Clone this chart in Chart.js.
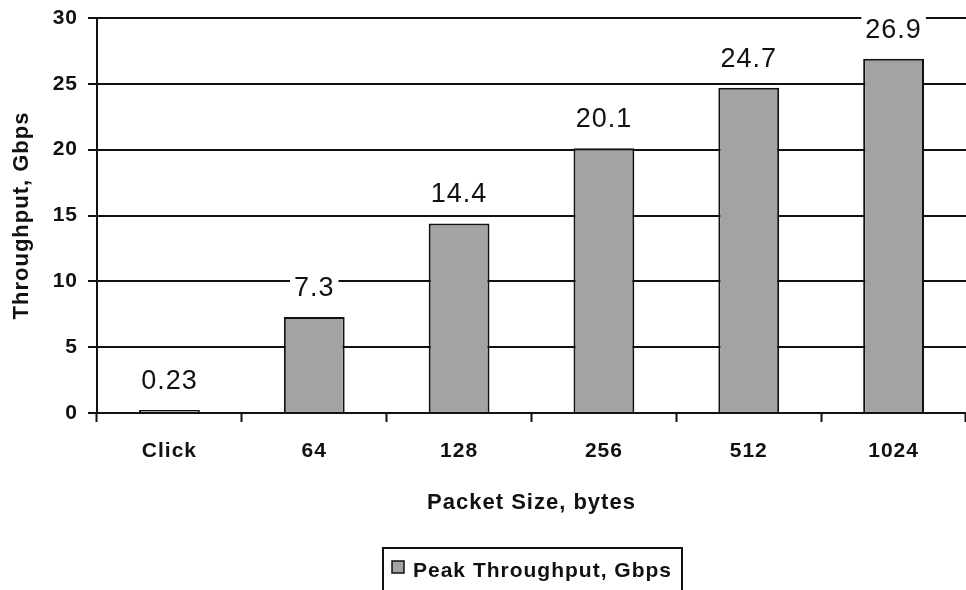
<!DOCTYPE html>
<html>
<head>
<meta charset="utf-8">
<title>Peak Throughput</title>
<script src="https://cdn.jsdelivr.net/npm/chart.js@4/dist/chart.umd.min.js"></script>
<style>
  html, body { margin: 0; padding: 0; background: #fff; }
  #wrap { width: 966px; height: 590px; position: relative; }
</style>
</head>
<body>
<div id="wrap"><canvas id="chart"></canvas></div>
<script>
'use strict';

// ── Data ──────────────────────────────────────────────────
const categories  = ['Click', '64', '128', '256', '512', '1024'];
const throughput  = [0.23, 7.3, 14.4, 20.1, 24.7, 26.9];
const valueLabels = ['0.23', '7.3', '14.4', '20.1', '24.7', '26.9'];
const yTicks      = [0, 5, 10, 15, 20, 25, 30];
const seriesName  = 'Peak Throughput, Gbps';
const xTitle      = 'Packet Size, bytes';
const yTitle      = 'Throughput, Gbps';

const FONT = '"Liberation Sans", Arial, Helvetica, sans-serif';
const INK  = '#111111';
const BAR  = '#a3a3a3';

// keep a touch of letter spacing, the scanned original is a bit wide
function spacing(chart) {
    if ('letterSpacing' in chart.ctx) chart.ctx.letterSpacing = '1px';
}

// ── Value labels on white boxes (they cut the gridlines) ──
const valueLabelPlugin = {
    id: 'valueLabels',
    afterDatasetsDraw(chart) {
        const ctx = chart.ctx;
        const meta = chart.getDatasetMeta(0);
        ctx.save();
        ctx.font = '27px ' + FONT;
        ctx.textAlign = 'center';
        ctx.textBaseline = 'alphabetic';
        meta.data.forEach((bar, i) => {
            const txt = valueLabels[i];
            const base = bar.y - 21;
            const w = ctx.measureText(txt).width;
            ctx.fillStyle = '#ffffff';
            ctx.fillRect(bar.x - w / 2 - 4, base - 23, w + 8, 27);
            ctx.fillStyle = INK;
            ctx.fillText(txt, bar.x, base);
        });
        ctx.restore();
    }
};

// ── Boxed legend under the axis title ─────────────────────
const boxLegendPlugin = {
    id: 'boxLegend',
    beforeUpdate: spacing,
    beforeDraw: spacing,
    afterDraw(chart) {
        const ctx = chart.ctx;
        ctx.save();
        ctx.font = 'bold 21px ' + FONT;
        const tw = ctx.measureText(seriesName).width;
        const left = 383, top = 548;
        ctx.lineWidth = 2;
        ctx.strokeStyle = INK;
        ctx.strokeRect(left, top, 30 + tw + 10, 46);
        // swatch
        ctx.fillStyle = BAR;
        ctx.fillRect(392, 561, 12, 12);
        ctx.lineWidth = 1.5;
        ctx.strokeRect(392, 561, 12, 12);
        // text
        ctx.fillStyle = INK;
        ctx.textAlign = 'left';
        ctx.textBaseline = 'alphabetic';
        ctx.fillText(seriesName, left + 30, 577);
        ctx.restore();
    }
};

new Chart(document.getElementById('chart').getContext('2d'), {
    type: 'bar',
    data: {
        labels: categories,
        datasets: [{
            label: seriesName,
            data: throughput,
            backgroundColor: BAR,
            borderColor: INK,
            borderWidth: 2,
            barPercentage: 0.42,
            categoryPercentage: 1.0,
        }]
    },
    options: {
        responsive: true,
        maintainAspectRatio: false,
        animation: false,
        layout: { padding: { top: 18, right: 0, bottom: 0, left: 0 } },
        plugins: {
            legend: { display: false },
            tooltip: { enabled: false },
        },
        scales: {
            x: {
                offset: true,
                grid: {
                    offset: true,
                    drawOnChartArea: false,
                    drawTicks: true,
                    tickLength: 9,
                    tickWidth: 2,
                    tickColor: INK,
                },
                border: { display: true, color: INK, width: 2 },
                ticks: {
                    color: INK,
                    padding: 17,
                    maxRotation: 0,
                    font: { family: FONT, size: 21, weight: 'bold' },
                },
                title: {
                    display: true,
                    text: xTitle,
                    color: INK,
                    font: { family: FONT, size: 22, weight: 'bold' },
                    padding: { top: 0, bottom: 74 },
                },
                afterFit(scale) {
                    scale.height = 177;
                    scale.paddingLeft = 0;
                    scale.paddingRight = 0;
                },
            },
            y: {
                min: 0,
                max: 30,
                afterBuildTicks(scale) { scale.ticks = yTicks.map(v => ({ value: v })); },
                grid: {
                    color: INK,
                    lineWidth: 2,
                    tickLength: 9,
                    tickColor: INK,
                    tickWidth: 2,
                },
                border: { display: true, color: INK, width: 2 },
                ticks: {
                    color: INK,
                    padding: 10,
                    font: { family: FONT, size: 21, weight: 'bold' },
                },
                title: {
                    display: true,
                    text: yTitle,
                    color: INK,
                    font: { family: FONT, size: 22, weight: 'bold' },
                    padding: { top: 9, bottom: 0 },
                },
                afterFit(scale) {
                    scale.width = 97;
                    scale.paddingTop = 0;
                    scale.paddingBottom = 0;
                },
            }
        }
    },
    plugins: [valueLabelPlugin, boxLegendPlugin]
});
</script>
</body>
</html>
